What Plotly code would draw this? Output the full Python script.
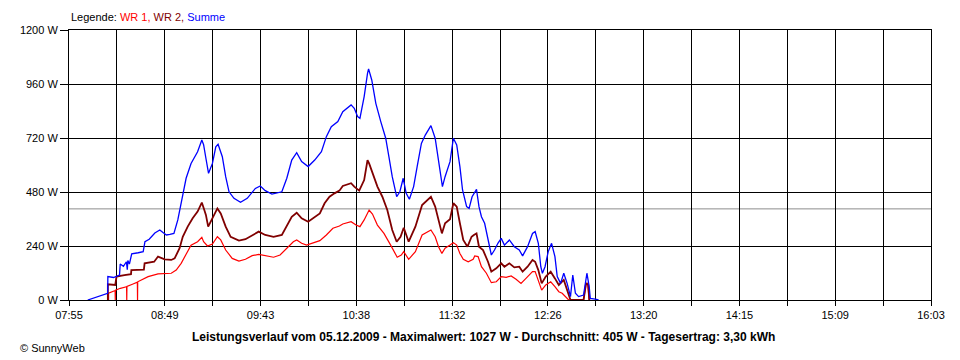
import pandas as pd
import plotly.graph_objects as go

DAY = "2009-12-05 "

# ---- WR 1 (red) ----
wr1_time = ["08:17:24", "08:17:24", "08:21:06", "08:21:12", "08:21:18", "08:24:06", "08:27:36", "08:27:42", "08:27:48",
            "08:30:54", "08:33:42", "08:33:48", "08:33:54", "08:39:48", "08:45:24", "08:52:54", "08:55:42", "08:58:30",
            "09:01:18", "09:04:06", "09:07:48", "09:10:12", "09:11:12", "09:13:24", "09:16:12", "09:19:00", "09:20:54",
            "09:23:42", "09:27:24", "09:31:12", "09:34:54", "09:38:42", "09:42:24", "09:46:06", "09:50:48", "09:54:30",
            "09:58:18", "10:02:00", "10:03:54", "10:06:42", "10:09:30", "10:13:12", "10:17:00", "10:20:42", "10:24:24",
            "10:28:06", "10:30:00", "10:34:42", "10:37:30", "10:39:42", "10:42:06", "10:44:54", "10:46:48", "10:49:36",
            "10:53:18", "10:57:06", "11:00:48", "11:03:06", "11:04:30", "11:07:18", "11:11:06", "11:14:54", "11:19:54",
            "11:22:18", "11:24:12", "11:26:06", "11:27:54", "11:30:42", "11:32:36", "11:34:30", "11:36:18", "11:38:12",
            "11:41:00", "11:43:48", "11:44:42", "11:46:36", "11:48:30", "11:51:18", "11:54:06", "11:56:54", "11:59:42",
            "12:02:30", "12:05:18", "12:08:06", "12:10:54", "12:13:42", "12:17:24", "12:18:54", "12:20:42", "12:22:36",
            "12:24:54", "12:27:42", "12:30:06", "12:32:18", "12:34:12", "12:36:06", "12:37:54", "12:46:18", "12:47:42",
            "12:48:36", "12:49:24"]
wr1_watt = [0, 30, 42, 0, 44, 52, 59, 0, 60,
            70, 79, 0, 81, 104, 116, 119, 133, 163,
            207, 244, 259, 279, 259, 240, 249, 281, 267,
            222, 185, 173, 181, 197, 203, 196, 190, 200,
            230, 259, 267, 252, 244, 255, 264, 289, 319,
            329, 338, 348, 333, 326, 356, 400, 382, 333,
            296, 244, 190, 200, 215, 181, 215, 289, 311,
            281, 237, 207, 230, 244, 255, 244, 207, 181,
            170, 181, 196, 193, 148, 119, 77, 81, 104,
            101, 107, 92, 74, 96, 126, 126, 89, 44,
            67, 81, 59, 37, 30, 15, 0, 0, 70,
            74, 0]

# ---- WR 2 (dark red) ----
wr2_time = ["08:17:00", "08:17:00", "08:21:12", "08:21:54", "08:26:24", "08:30:06", "08:30:18", "08:37:24", "08:37:48",
            "08:43:12", "08:45:24", "08:49:12", "08:52:54", "08:54:48", "08:57:36", "08:59:24", "09:02:12", "09:05:00",
            "09:07:48", "09:10:12", "09:11:36", "09:12:30", "09:13:48", "09:15:48", "09:19:00", "09:20:54", "09:23:42",
            "09:26:30", "09:31:12", "09:34:54", "09:38:42", "09:42:24", "09:46:06", "09:50:48", "09:55:30", "09:58:18",
            "10:01:06", "10:03:54", "10:06:42", "10:10:24", "10:14:06", "10:17:00", "10:19:42", "10:22:30", "10:25:18",
            "10:28:06", "10:30:00", "10:34:42", "10:36:30", "10:39:18", "10:42:06", "10:44:00", "10:44:54", "10:46:48",
            "10:49:36", "10:52:24", "10:55:12", "10:58:00", "11:00:30", "11:02:42", "11:04:30", "11:07:18", "11:11:06",
            "11:14:54", "11:19:54", "11:22:18", "11:24:12", "11:26:06", "11:27:54", "11:30:42", "11:32:36", "11:34:30",
            "11:36:18", "11:38:12", "11:40:36", "11:42:54", "11:44:12", "11:45:42", "11:47:06", "11:49:24", "11:52:12",
            "11:54:06", "11:56:54", "11:59:42", "12:01:30", "12:04:18", "12:07:06", "12:09:54", "12:11:48", "12:14:36",
            "12:17:24", "12:18:54", "12:20:42", "12:22:36", "12:24:54", "12:27:42", "12:30:06", "12:32:18", "12:35:06",
            "12:37:00", "12:38:54", "12:46:18", "12:47:42", "12:49:00", "12:49:36"]
wr2_watt = [0, 70, 67, 104, 111, 115, 133, 135, 163,
            170, 193, 181, 178, 185, 230, 281, 326, 363,
            393, 433, 400, 378, 326, 356, 407, 385, 326,
            281, 264, 270, 289, 304, 289, 281, 289, 333,
            370, 388, 363, 348, 367, 385, 430, 459, 474,
            486, 507, 519, 504, 486, 533, 622, 607, 563,
            504, 459, 400, 311, 259, 281, 321, 259, 326,
            422, 459, 415, 356, 296, 341, 359, 430, 415,
            341, 267, 237, 281, 289, 296, 237, 222, 170,
            126, 141, 163, 148, 163, 145, 148, 126, 148,
            178, 170, 133, 74, 104, 126, 96, 67, 89,
            44, 0, 0, 74, 67, 0]

# ---- Summe (blue) ----
sum_time = ["08:05:36", "08:10:42", "08:14:36", "08:16:54", "08:17:00", "08:20:12", "08:23:36", "08:24:00", "08:25:48",
            "08:27:30", "08:28:00", "08:28:18", "08:29:12", "08:30:30", "08:34:12", "08:37:00", "08:38:00", "08:40:24",
            "08:43:36", "08:46:24", "08:48:12", "08:50:06", "08:52:06", "08:54:24", "08:56:36", "08:59:24", "09:01:18",
            "09:04:06", "09:07:48", "09:10:12", "09:11:12", "09:12:30", "09:14:00", "09:16:12", "09:18:06", "09:19:24",
            "09:21:48", "09:23:42", "09:25:36", "09:28:24", "09:32:06", "09:35:54", "09:40:30", "09:43:18", "09:46:06",
            "09:49:54", "09:55:30", "09:58:18", "10:01:06", "10:03:54", "10:06:42", "10:10:24", "10:14:06", "10:17:54",
            "10:20:42", "10:23:30", "10:27:12", "10:30:00", "10:34:42", "10:36:30", "10:38:24", "10:39:42", "10:42:06",
            "10:44:00", "10:44:36", "10:46:24", "10:48:42", "10:51:30", "10:54:18", "10:56:06", "10:58:00", "11:00:30",
            "11:02:18", "11:04:12", "11:05:54", "11:07:42", "11:10:06", "11:12:06", "11:14:30", "11:16:42", "11:19:54",
            "11:22:18", "11:24:12", "11:26:24", "11:27:54", "11:30:42", "11:32:36", "11:34:30", "11:36:18", "11:37:48",
            "11:40:06", "11:41:30", "11:43:12", "11:45:42", "11:47:06", "11:48:30", "11:50:18", "11:52:12", "11:54:06",
            "11:55:54", "11:57:48", "11:59:42", "12:01:30", "12:04:18", "12:07:06", "12:09:54", "12:11:48", "12:14:36",
            "12:17:24", "12:18:54", "12:20:42", "12:22:06", "12:23:00", "12:24:30", "12:26:18", "12:28:12", "12:30:06",
            "12:31:24", "12:33:18", "12:35:06", "12:37:00", "12:38:54", "12:40:12", "12:41:42", "12:43:30", "12:46:18",
            "12:48:12", "12:49:30", "12:50:06", "12:52:54", "12:54:48"]
sum_watt = [0, 12, 22, 30, 104, 100, 111, 160, 150,
            170, 135, 175, 160, 205, 210, 215, 259, 270,
            298, 311, 300, 289, 292, 296, 356, 459, 541,
            607, 659, 711, 690, 630, 563, 607, 681, 692,
            637, 548, 481, 452, 434, 452, 496, 507, 486,
            471, 481, 541, 622, 655, 615, 593, 622, 659,
            726, 770, 793, 837, 867, 852, 815, 807, 904,
            1007, 1027, 978, 874, 793, 719, 637, 548, 459,
            481, 541, 474, 448, 504, 593, 696, 733, 775,
            719, 622, 504, 548, 615, 719, 689, 593, 489,
            415, 407, 459, 492, 415, 370, 341, 267, 200,
            222, 252, 274, 244, 267, 237, 222, 196, 237,
            296, 304, 252, 148, 119, 148, 215, 252, 193,
            104, 74, 119, 74, 15, 111, 30, 15, 22,
            119, 59, 7, 4, 0]

AVERAGE = 405
X_START, X_END = "07:55", "16:03"
X_LABELS = ["07:55", "08:49", "09:43", "10:38", "11:32", "12:26", "13:20", "14:15", "15:09", "16:03"]
Y_TICKS = [0, 240, 480, 720, 960, 1200]
Y_LABELS = ["0 W", "240 W", "480 W", "720 W", "960 W", "1200 W"]

FONT = "Liberation Sans, Arial, sans-serif"

grid_times = pd.date_range(DAY + X_START, DAY + X_END, periods=19)
grid_text = []
for i in range(19):
    grid_text.append(X_LABELS[i // 2] if i % 2 == 0 else "")

fig = go.Figure()
fig.add_trace(go.Scatter(x=[DAY + t for t in wr1_time], y=wr1_watt, mode="lines",
                         line=dict(color="#ff0000", width=1.2), name="WR 1"))
fig.add_trace(go.Scatter(x=[DAY + t for t in wr2_time], y=wr2_watt, mode="lines",
                         line=dict(color="#800000", width=1.8), name="WR 2"))
fig.add_trace(go.Scatter(x=[DAY + t for t in sum_time], y=sum_watt, mode="lines",
                         line=dict(color="#0000ff", width=1.3), name="Summe"))

fig.add_shape(type="line", xref="paper", x0=0, x1=1, yref="y", y0=AVERAGE, y1=AVERAGE,
              line=dict(color="#8c8c8c", width=1), layer="below")

# the page body adds an 8px offset, so the figure is 952x352 with adjusted margins
fig.update_layout(
    width=952, height=352,
    margin=dict(l=52, r=29, t=22, b=60),
    paper_bgcolor="white", plot_bgcolor="white",
    showlegend=False,
    font=dict(family=FONT, size=11, color="black"),
    xaxis=dict(type="date", range=[DAY + X_START, DAY + X_END],
               tickvals=list(grid_times), ticktext=grid_text,
               ticks="outside", ticklen=5, tickcolor="black", tickwidth=1,
               showgrid=True, gridcolor="black", gridwidth=1,
               showline=True, linecolor="black", linewidth=1, mirror=True,
               tickfont=dict(family=FONT, size=11, color="black")),
    yaxis=dict(range=[0, 1200], tickvals=Y_TICKS, ticktext=Y_LABELS,
               ticks="outside", ticklen=8, tickcolor="black", tickwidth=1,
               showgrid=True, gridcolor="black", gridwidth=1, zeroline=False,
               showline=True, linecolor="black", linewidth=1, mirror=True,
               tickfont=dict(family=FONT, size=11, color="black")),
)

fig.add_annotation(xref="paper", yref="paper", x=0, y=1 + 13 / 270, xanchor="left", yanchor="middle",
                   showarrow=False, font=dict(family=FONT, size=11, color="black"),
                   text='Legende: <span style="color:#ff0000">WR 1,</span> '
                        '<span style="color:#800000">WR 2,</span> '
                        '<span style="color:#0000ff">Summe</span>')
fig.add_annotation(xref="paper", yref="paper", x=(479 - 60) / 871, y=-37 / 270, xanchor="center", yanchor="middle",
                   showarrow=False, font=dict(family=FONT, size=12, color="black"),
                   text="<b>Leistungsverlauf vom 05.12.2009 - Maximalwert: 1027 W - Durchschnitt: 405 W - Tagesertrag: 3,30 kWh</b>")
fig.add_annotation(xref="paper", yref="paper", x=-52 / 871, y=-48 / 270, xanchor="left", yanchor="middle",
                   showarrow=False, font=dict(family=FONT, size=11, color="black"),
                   text="© SunnyWeb")

fig.write_html("out.html")
